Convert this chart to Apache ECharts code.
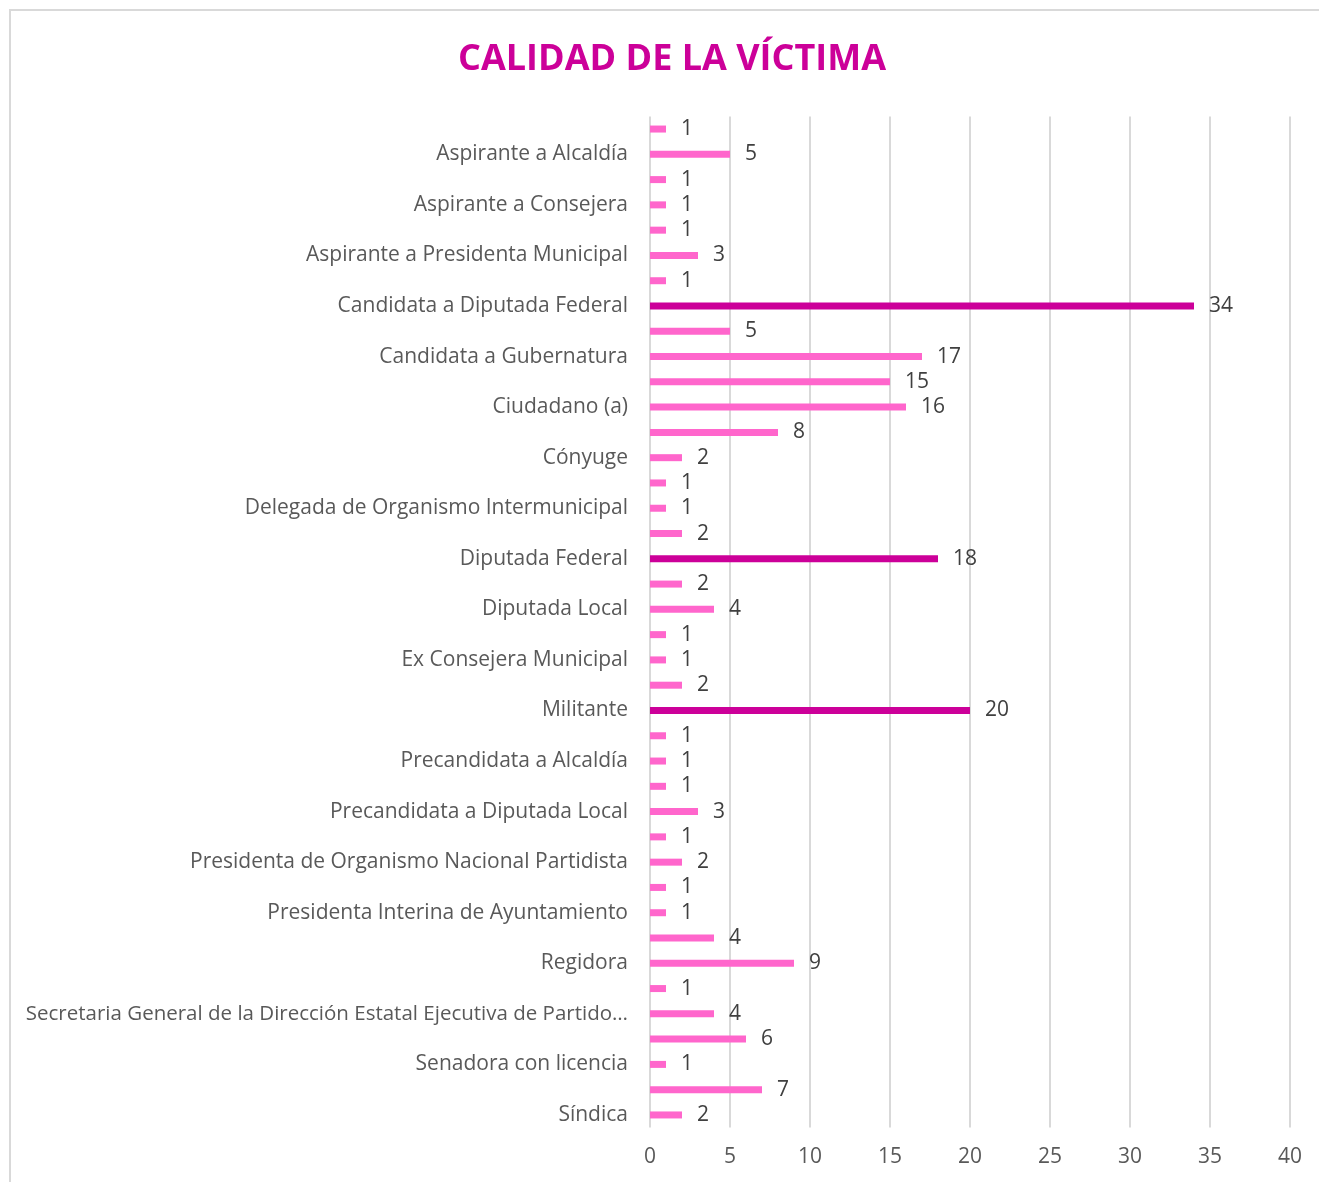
<!DOCTYPE html>
<html>
<head>
<meta charset="utf-8">
<script src="https://cdn.jsdelivr.net/npm/echarts@6/dist/echarts.min.js"></script>
<style>
  html, body { margin: 0; padding: 0; background: #fff; }
  #chart { width: 1319px; height: 1182px; }
</style>
</head>
<body>
<div id="chart"></div>
<script>
// categorías (las de índice par no se ven en el original, Excel las oculta)
const categorias = [
  'Alcaldesa', 'Aspirante a Alcaldía',
  'Aspirante a Candidata', 'Aspirante a Consejera',
  'Aspirante a Diputada Local', 'Aspirante a Presidenta Municipal',
  'Candidata a Alcaldía', 'Candidata a Diputada Federal',
  'Candidata a Diputada Local', 'Candidata a Gubernatura',
  'Candidata a Regidora', 'Ciudadano (a)',
  'Comunicadora', 'Cónyuge',
  'Consejera', 'Delegada de Organismo Intermunicipal',
  'Diputada', 'Diputada Federal',
  'Diputada Federal Electa', 'Diputada Local',
  'Dirigente', 'Ex Consejera Municipal',
  'Funcionaria', 'Militante',
  'Precandidata', 'Precandidata a Alcaldía',
  'Precandidata a Diputada Federal', 'Precandidata a Diputada Local',
  'Presidenta Municipal', 'Presidenta de Organismo Nacional Partidista',
  'Presidenta de Comité', 'Presidenta Interina de Ayuntamiento',
  'Regidor', 'Regidora',
  'Secretaria', 'Secretaria General de la Dirección Estatal Ejecutiva de Partido Político',
  'Senadora', 'Senadora con licencia',
  'Servidora Pública', 'Síndica'
];
const valores = [
  1, 5, 1, 1, 1, 3, 1, 34, 5, 17,
  15, 16, 8, 2, 1, 1, 2, 18, 2, 4,
  1, 1, 2, 20, 1, 1, 1, 3, 1, 2,
  1, 1, 4, 9, 1, 4, 6, 1, 7, 2
];
// barras resaltadas en color oscuro
const destacadas = ['Candidata a Diputada Federal', 'Diputada Federal', 'Militante'];
const ticksX = [0, 5, 10, 15, 20, 25, 30, 35, 40];

const fuente = '"Open Sans", "Noto Sans", sans-serif';
const chart = echarts.init(document.getElementById('chart'));

// la etiqueta larga va un poco más chica para que quepa "Partido…"
const datosEje = categorias.map(c => c.length > 60
  ? { value: c, textStyle: { fontSize: 20.5 } }
  : c);

const option = {
  backgroundColor: '#fff',
  animation: false,
  title: {
    text: 'CALIDAD DE LA VÍCTIMA',
    left: 667,
    top: 37,
    textAlign: 'center',
    textStyle: { color: '#CC0099', fontSize: 36, fontWeight: 'bold', fontFamily: fuente }
  },
  graphic: [{
    type: 'rect',
    shape: { x: 10, y: 10, width: 1400, height: 1400 },
    style: { fill: 'none', stroke: '#d9d9d9', lineWidth: 2 },
    silent: true
  }],
  grid: { left: 650, right: 29, top: 116.4, bottom: 54.4, containLabel: false },
  xAxis: {
    type: 'value',
    min: ticksX[0],
    max: ticksX[ticksX.length - 1],
    interval: 5,
    axisLine: { show: false },
    axisTick: { show: false },
    splitLine: { lineStyle: { color: '#d9d9d9', width: 2 } },
    axisLabel: { color: '#595959', fontSize: 21, fontFamily: fuente, margin: 19 }
  },
  yAxis: {
    type: 'category',
    data: datosEje,
    inverse: true,
    axisLine: { show: false },
    axisTick: { show: false },
    axisLabel: {
      interval: (i) => i % 2 === 1,
      color: '#595959',
      fontSize: 21,
      fontFamily: fuente,
      margin: 22,
      width: 605,
      overflow: 'truncate',
      ellipsis: '…'
    }
  },
  series: [{
    type: 'bar',
    barWidth: 7,
    data: valores.map((v, i) => ({
      value: v,
      itemStyle: { color: destacadas.includes(categorias[i]) ? '#CC0099' : '#FF66CC' }
    })),
    label: {
      show: true,
      position: 'right',
      distance: 15,
      color: '#404040',
      fontSize: 21,
      fontFamily: fuente
    }
  }]
};

chart.setOption(option);
</script>
</body>
</html>
